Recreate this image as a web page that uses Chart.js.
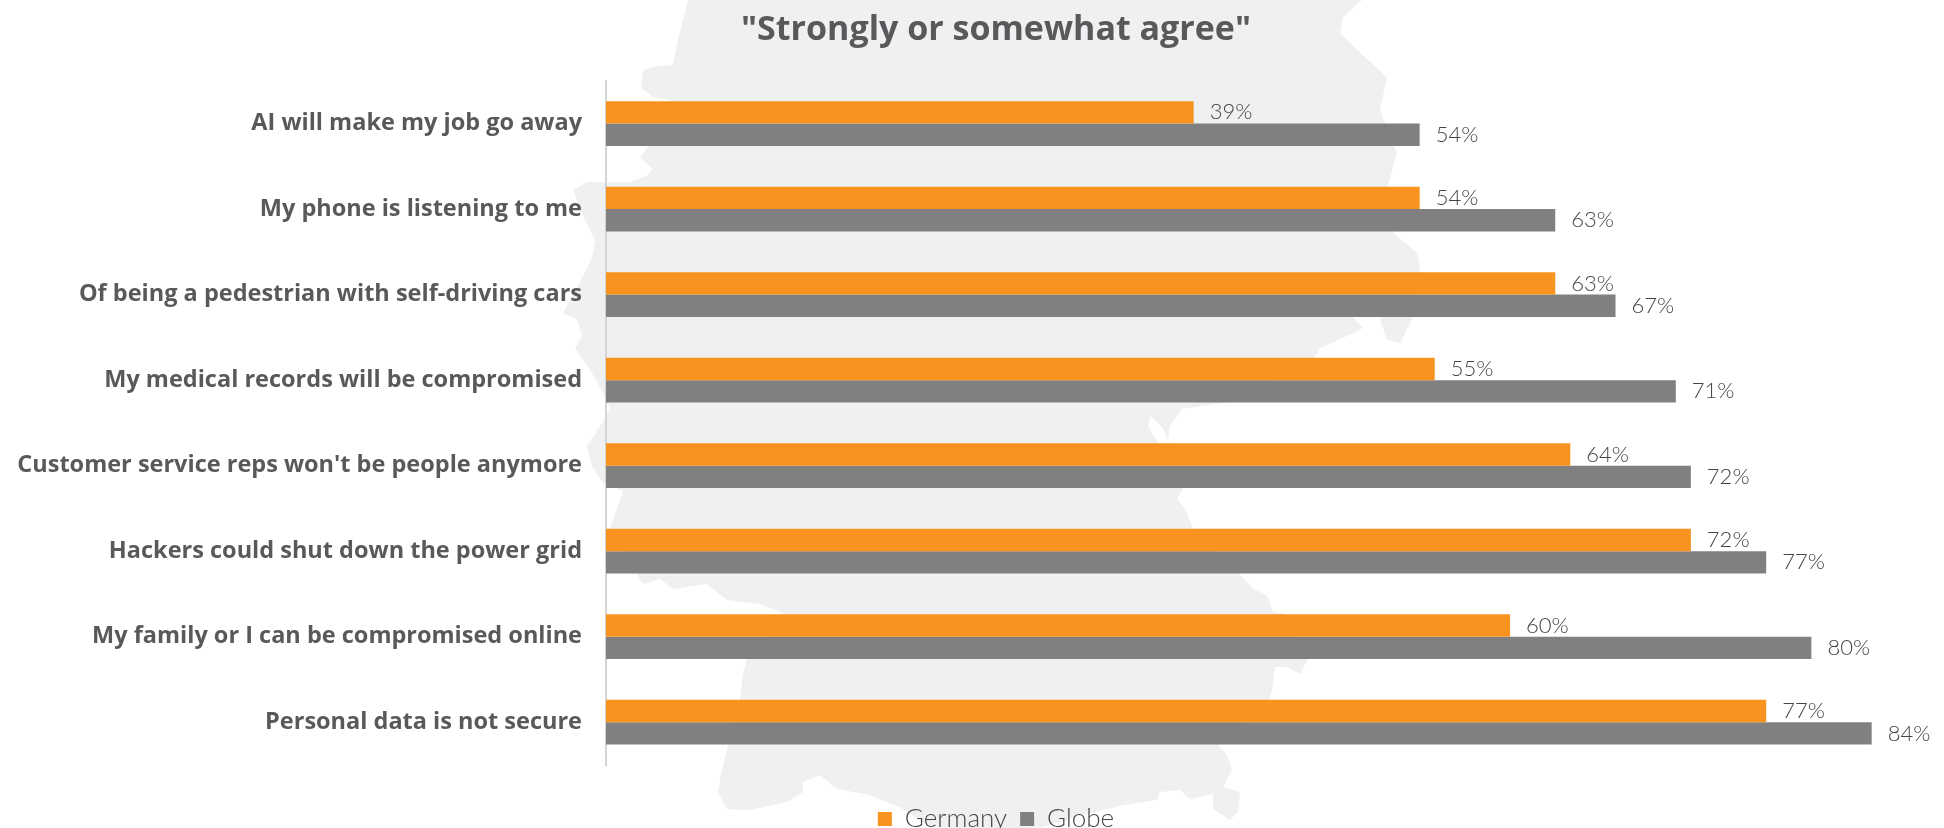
<!DOCTYPE html>
<html>
<head>
<meta charset="utf-8">
<title>Strongly or somewhat agree</title>
<script src="https://cdn.jsdelivr.net/npm/chart.js@4/dist/chart.umd.min.js"></script>
<style>
    html, body { margin: 0; padding: 0; background: #fff; overflow: hidden; }
    #wrap { position: relative; width: 1944px; height: 828px; }
    #backdrop, #agreeChart { position: absolute; left: 0; top: 0; }
</style>
</head>
<body>
<div id="wrap">
    <!-- map of Germany sitting behind the chart -->
    <svg id="backdrop" width="1944" height="828">
        <polygon fill="#eff0f2" points="688,0 683,20 677,43 673,65 653,67 643,70 641,88 653,97 670,100 660,125 648,147 640,157 652,168 648,175 630,182 587,182 573,190 585,220 595,240 592,257 583,276 570,300 563,313 577,319 582,336 575,348 592,373 603,393 610,409 602,423 587,446 592,466 603,483 623,491 617,509 610,528 625,555 637,574 643,584 660,579 673,589 707,584 727,600 760,604 783,613 765,635 747,659 743,675 740,699 733,725 728,745 722,769 718,792 727,809 750,810 787,802 803,792 803,782 820,775 837,789 870,795 903,809 927,825 945,828 1030,828 1043,827 1083,815 1123,805 1157,800 1160,792 1180,790 1190,799 1213,794 1213,809 1230,820 1238,812 1240,792 1223,787 1232,769 1227,755 1218,745 1245,720 1270,699 1273,685 1275,667 1287,667 1300,674 1308,659 1295,635 1283,613 1273,612 1267,595 1253,589 1240,574 1215,550 1193,528 1185,509 1177,499 1183,489 1175,465 1157,441 1148,426 1150,416 1163,428 1168,441 1170,426 1182,409 1230,402 1275,380 1315,357 1320,348 1347,336 1363,328 1353,317 1380,317 1382,325 1387,340 1400,343 1413,317 1420,270 1417,253 1393,233 1388,185 1397,153 1380,110 1387,77 1368,60 1340,33 1343,17 1362,0"/>
    </svg>
    <canvas id="agreeChart" width="1944" height="828"></canvas>
</div>

<script>
const categories = [
    "AI will make my job go away",
    "My phone is listening to me",
    "Of being a pedestrian with self-driving cars",
    "My medical records will be compromised",
    "Customer service reps won't be people anymore",
    "Hackers could shut down the power grid",
    "My family or I can be compromised online",
    "Personal data is not secure"
];
const germany = [39, 54, 63, 55, 64, 72, 60, 77];
const globe = [54, 63, 67, 71, 72, 77, 80, 84];

const textColor = "#58595b";
const lightTextColor = "#454545";
const labelFont = "Lato, 'Open Sans', sans-serif";

// writes the percentage just past the end of each bar
const valueLabels = {
    id: "valueLabels",
    afterDatasetsDraw(chart) {
        const ctx = chart.ctx;
        ctx.save();
        ctx.font = "300 22px " + labelFont;
        ctx.fillStyle = lightTextColor;
        ctx.textAlign = "left";
        ctx.textBaseline = "middle";
        chart.data.datasets.forEach((set, i) => {
            chart.getDatasetMeta(i).data.forEach((bar, j) => {
                ctx.fillText(set.data[j] + "%", bar.x + 16, bar.y);
            });
        });
        ctx.restore();
    }
};

new Chart(document.getElementById("agreeChart").getContext("2d"), {
    type: "bar",
    plugins: [valueLabels],
    data: {
        labels: categories,
        datasets: [
            { label: "Germany", data: germany, backgroundColor: "#f8931f" },
            { label: "Globe", data: globe, backgroundColor: "#808080" }
        ]
    },
    options: {
        indexAxis: "y",
        responsive: false,
        animation: false,
        // negative right padding pushes the title and legend over towards the bars
        layout: { padding: { right: -48, bottom: -14 } },
        datasets: { bar: { barPercentage: 1, categoryPercentage: 0.523 } },
        scales: {
            x: {
                min: 0,
                max: 88.8,
                grid: { display: false },
                border: { display: false },
                ticks: { display: false },
                afterFit(scale) { scale.height = 28; }
            },
            y: {
                grid: { display: false },
                border: { display: true, color: "#d4d4d4", width: 2 },
                ticks: {
                    color: textColor,
                    padding: 16,
                    font: { family: "'Open Sans'", weight: "bold", size: 23.5 }
                },
                afterFit(scale) { scale.width = 606; }
            }
        },
        plugins: {
            title: {
                display: true,
                text: "\"Strongly or somewhat agree\"",
                color: textColor,
                padding: { top: 10, bottom: 30 },
                font: { family: "'Open Sans'", weight: "bold", size: 34 }
            },
            legend: {
                position: "bottom",
                labels: {
                    boxWidth: 14,
                    boxHeight: 14,
                    padding: 13,
                    color: lightTextColor,
                    font: { family: labelFont, weight: "300", size: 26 }
                }
            },
            tooltip: { enabled: false }
        }
    }
});
</script>
</body>
</html>
